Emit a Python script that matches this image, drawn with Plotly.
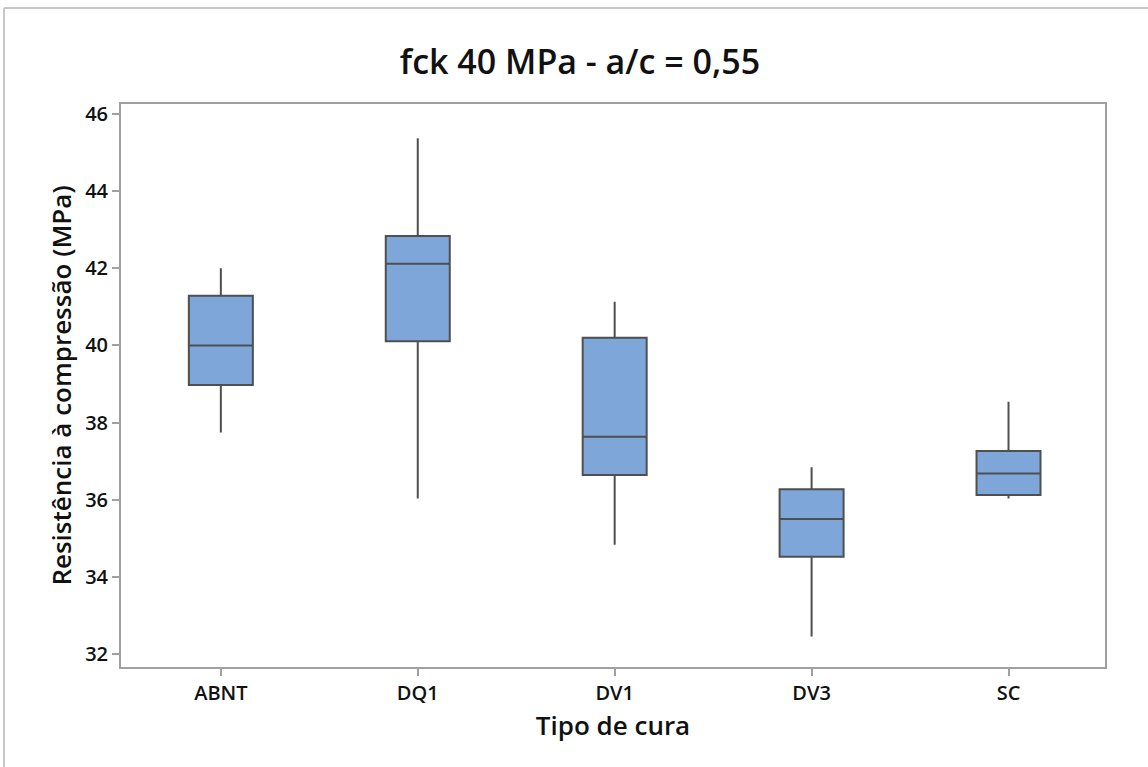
import plotly.graph_objects as go

categories = ["ABNT", "DQ1", "DV1", "DV3", "SC"]
lower_whisker = [37.74, 36.03, 34.83, 32.45, 36.03]
q1_values = [38.97, 40.11, 36.64, 34.52, 36.12]
median_values = [40.00, 42.12, 37.63, 35.50, 36.68]
q3_values = [41.29, 42.84, 40.20, 36.27, 37.26]
upper_whisker = [42.00, 45.37, 41.13, 36.84, 38.54]
y_ticks = [32, 34, 36, 38, 40, 42, 44, 46]

FONT = "Open Sans"

fig = go.Figure()
fig.add_trace(go.Box(
    x=categories,
    q1=q1_values,
    median=median_values,
    q3=q3_values,
    lowerfence=lower_whisker,
    upperfence=upper_whisker,
    boxpoints=False,
    whiskerwidth=0,
    width=0.325,
    fillcolor="#7EA6D8",
    line=dict(color="#4f4f4f", width=2),
    showlegend=False,
    hoverinfo="y",
))

W, H = 1148, 767
ml, mr, mt, mb = 121, 43, 104, 100
pw, ph = W - ml - mr, H - mt - mb

def px_x(x):
    return (x - ml) / pw

def px_y(y):
    return 1 - (y - mt) / ph

fig.update_layout(
    width=W, height=H,
    margin=dict(l=ml, r=mr, t=mt, b=mb),
    paper_bgcolor="white",
    plot_bgcolor="white",
    title=dict(
        text="fck 40 MPa - a/c = 0,55",
        x=580 / W, xanchor="center",
        y=1 - 62 / H, yanchor="middle",
        font=dict(family=FONT, size=34, color="#111111", weight=600),
    ),
    xaxis=dict(
        type="category",
        range=[-0.507, 4.49],
        showline=True, linecolor="#a0a0a0", linewidth=2, mirror=True,
        ticks="outside", ticklen=7, tickcolor="#a0a0a0", tickwidth=1.5,
        showgrid=False, zeroline=False,
        tickfont=dict(family=FONT, size=20, color="#111111", weight=600),
        title=dict(text="Tipo de cura", standoff=12,
                   font=dict(family=FONT, size=26, color="#111111", weight=600)),
    ),
    yaxis=dict(
        range=[31.66, 46.26],
        tickvals=y_ticks,
        showline=True, linecolor="#a0a0a0", linewidth=2, mirror=True,
        ticks="outside", ticklen=7, tickcolor="#a0a0a0", tickwidth=1.5,
        showgrid=False, zeroline=False,
        tickfont=dict(family=FONT, size=20, color="#111111", weight=600),
        title=dict(text="Resistência à compressão (MPa)", standoff=6,
                   font=dict(family=FONT, size=26, color="#111111", weight=600)),
    ),
    shapes=[
        dict(type="line", xref="paper", yref="paper",
             x0=px_x(4), x1=px_x(W + 10), y0=px_y(8), y1=px_y(8),
             line=dict(color="#c8c8c8", width=2)),
        dict(type="line", xref="paper", yref="paper",
             x0=px_x(4), x1=px_x(4), y0=px_y(8), y1=px_y(H + 10),
             line=dict(color="#c8c8c8", width=2)),
    ],
)

fig.write_html(
    "out.html",
    config={"displayModeBar": False},
    post_script="document.body.style.margin='0';document.body.style.overflow='hidden';",
)
